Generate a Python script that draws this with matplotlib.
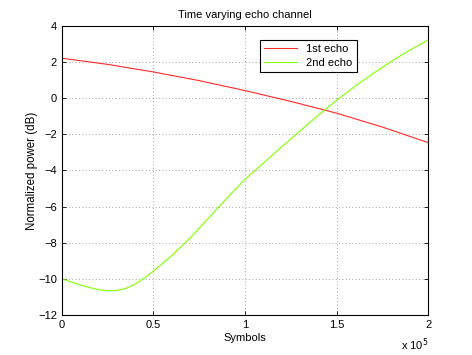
import numpy as np
import matplotlib
matplotlib.use("Agg")
import matplotlib.pyplot as plt
from matplotlib.ticker import FuncFormatter

# values (x in units of 1e5 symbols)
red_x = [0, 0.25, 0.5, 0.75, 1.0, 1.25, 1.5, 1.75, 2.0]
red_y = [2.21, 1.87, 1.45, 0.97, 0.42, -0.18, -0.83, -1.6, -2.46]

green_x = [0, 0.05, 0.1, 0.15, 0.2, 0.25, 0.3, 0.35, 0.4, 0.45, 0.5, 0.6, 0.7,
           0.8, 0.9, 1.0, 1.1, 1.2, 1.3, 1.4, 1.5, 1.6, 1.7, 1.8, 1.9, 2.0]
green_y = [-10.0, -10.18, -10.34, -10.48, -10.6, -10.67, -10.65, -10.53, -10.3,
           -9.97, -9.58, -8.72, -7.75, -6.65, -5.55, -4.5, -3.6, -2.7, -1.82,
           -0.95, -0.12, 0.65, 1.37, 2.04, 2.66, 3.22]

labels = ["1st echo", "2nd echo"]
x_ticks = [0, 0.5e5, 1e5, 1.5e5, 2e5]
y_ticks = [-12, -10, -8, -6, -4, -2, 0, 2, 4]

plt.rcParams['font.family'] = ['Liberation Sans', 'DejaVu Sans']
plt.rcParams['font.size'] = 8

fig = plt.figure(figsize=(4.72, 3.55), dpi=100)
ax = fig.add_axes([0.131, 0.113, 0.776, 0.814])

ax.plot(np.array(red_x) * 1e5, red_y, color="#ff2a2a", lw=0.8, label=labels[0])
ax.plot(np.array(green_x) * 1e5, green_y, color="#80ff00", lw=0.8, label=labels[1])

ax.set_xlim(0, 2e5)
ax.set_ylim(-12, 4)
ax.set_xticks(x_ticks)
ax.set_yticks(y_ticks)
ax.xaxis.set_major_formatter(FuncFormatter(lambda v, p: f"{v/1e5:g}"))
ax.yaxis.set_major_formatter(FuncFormatter(lambda v, p: f"{v:g}".replace("-", "\u2212")))

ax.grid(True, linestyle=(0, (1, 3)), color="#888888", lw=0.6)
ax.tick_params(direction="in", top=True, right=True, length=3, width=0.6, labelsize=8)
for s in ax.spines.values():
    s.set_linewidth(0.8)
    s.set_color("black")

ax.set_title("Time varying echo channel", fontsize=8, pad=6)
ax.set_xlabel("Symbols", fontsize=8, labelpad=2)
ax.set_ylabel("Normalized power (dB)", fontsize=8.3, labelpad=0)
ax.text(1.0, -0.075, r"x 10$^{5}$", transform=ax.transAxes, ha="right", va="top", fontsize=8)

leg = ax.legend(loc="upper left", bbox_to_anchor=(0.54, 0.952), borderaxespad=0,
                fancybox=False, framealpha=1, edgecolor="black", handlelength=3.0,
                fontsize=8, borderpad=0.4, labelspacing=0.3)
leg.get_frame().set_linewidth(0.8)

fig.savefig("out.png", dpi=100)
